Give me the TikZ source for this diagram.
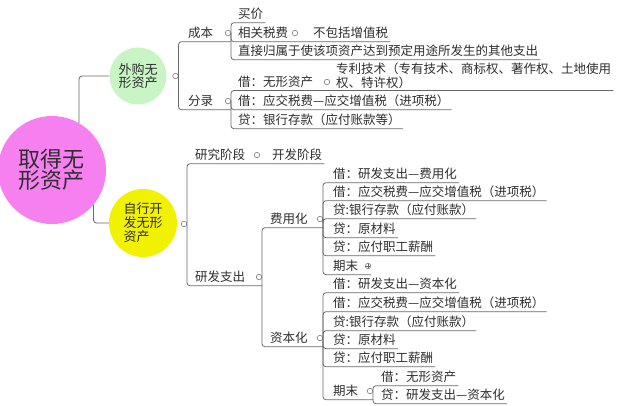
\documentclass[tikz,border=0pt]{standalone}
\usepackage{fontspec}
\newfontfamily\cjk{Noto Sans CJK SC}
\definecolor{rootpink}{RGB}{246,128,240}
\definecolor{buygreen}{RGB}{200,245,195}
\definecolor{devyellow}{RGB}{242,242,0}
\definecolor{linegray}{RGB}{105,105,105}
\definecolor{textgray}{RGB}{45,45,45}
\tikzset{
    label/.style={inner xsep=2pt, inner ysep=2pt, text=textgray, font=\cjk\fontsize{12.5}{14}\selectfont},
    topic/.style={label, anchor=west, text height=11pt, text depth=2pt},
    knob/.style={circle, draw=linegray, fill=white, inner sep=0pt, minimum size=5.5pt, line width=0.5pt},
    knobplus/.style={knob, path picture={\draw[linegray, line width=0.5pt] (path picture bounding box.west) -- (path picture bounding box.east) (path picture bounding box.north) -- (path picture bounding box.south);}},
    branch/.style={draw=linegray, line width=0.8pt, rounded corners=3pt},
    bubble/.style={circle, inner sep=0pt, text=textgray, align=center},
}
\begin{document}
\begin{tikzpicture}[x=1pt, y=-1pt]
    \useasboundingbox (0,0) rectangle (635,405);
    \node[bubble, fill=rootpink, minimum size=108pt, font=\cjk\fontsize{22}{21}\selectfont] (root) at (52,170) {取得无\\形资产};
    \node[bubble, fill=buygreen, minimum size=57pt, font=\cjk\fontsize{13}{13.5}\selectfont] (buy) at (138,76) {外购无\\形资产};
    \node[bubble, fill=devyellow, minimum size=68pt, align=left, font=\cjk\fontsize{13}{14}\selectfont] (dev) at (143,223) {自行开\\发无形\\资产};
    \draw[branch] (root.60) |- (buy.west);
    \draw[branch] (root.-40) |- (dev.west);

    \node[knob] (buyk) at (175.5,76) {};
    \node[topic] (cost) at (186,33) {成本};
    \node[knob] (costk) at (228,33) {};
    \node[topic] (entry) at (186,101) {分录};
    \node[knob] (entryk) at (228,101) {};
    \draw[branch] (buyk.east) |- (cost.south -| costk.east);
    \draw[branch] (buyk.east) |- (entry.south -| entryk.east);

    \node[topic] (price) at (236,14) {买价};
    \node[topic] (tax) at (236,33) {相关税费};
    \node[knob] (taxk) at (295,33) {};
    \node[topic] (novat) at (311,33) {不包括增值税};
    \node[topic] (direct) at (236,51) {直接归属于使该项资产达到预定用途所发生的其他支出};
    \draw[branch] (costk.east) |- (price.south east);
    \draw[branch] (costk.east) |- (novat.south east);
    \draw[branch] (costk.east) |- (direct.south east);

    \node[topic] (debit1) at (236,82) {借：无形资产};
    \node[knob] (debit1k) at (327,82) {};
    \node[label, anchor=south west, align=left] (patent) at (334,90.5) {专利技术（专有技术、商标权、著作权、土地使用\\权、特许权）};
    \node[topic] (debit2) at (236,101) {借：应交税费—应交增值税（进项税）};
    \node[topic] (credit1) at (236,120) {贷：银行存款（应付账款等）};
    \draw[branch] (entryk.east) |- (patent.south east);
    \draw[branch] (entryk.east) |- (debit2.south east);
    \draw[branch] (entryk.east) |- (credit1.south east);

    \node[knob] (devk) at (184,224) {};
    \node[topic] (research) at (193,155) {研究阶段};
    \node[knob] (researchk) at (257,155) {};
    \node[topic] (develop) at (270,155) {开发阶段};
    \node[topic] (spend) at (193,277) {研发支出};
    \node[knob] (spendk) at (259,277) {};
    \draw[branch] (devk.east) |- (develop.south east);
    \draw[branch] (devk.east) |- (spend.south -| spendk.east);

    \node[topic] (expense) at (268,219) {费用化};
    \node[knob] (expensek) at (320,219) {};
    \node[topic] (capital) at (268,338) {资本化};
    \node[knob] (capitalk) at (320,338) {};
    \draw[branch] (spendk.east) |- (expense.south -| expensek.east);
    \draw[branch] (spendk.east) |- (capital.south -| capitalk.east);

    \node[topic] (exp1) at (331,174) {借：研发支出—费用化};
    \node[topic] (exp2) at (331,192) {借：应交税费—应交增值税（进项税）};
    \node[topic] (exp3) at (331,210) {贷:银行存款（应付账款）};
    \node[topic] (exp4) at (331,229) {贷：原材料};
    \node[topic] (exp5) at (331,247) {贷：应付职工薪酬};
    \node[topic] (exp6) at (331,266) {期末};
    \node[knobplus] (exp6k) at (368,266) {};
    \draw[branch] (expensek.east) |- (exp1.south east);
    \draw[branch] (expensek.east) |- (exp2.south east);
    \draw[branch] (expensek.east) |- (exp3.south east);
    \draw[branch] (expensek.east) |- (exp4.south east);
    \draw[branch] (expensek.east) |- (exp5.south east);
    \draw[branch] (expensek.east) |- (exp6.south -| exp6k.east);

    \node[topic] (cap1) at (331,284) {借：研发支出—资本化};
    \node[topic] (cap2) at (331,303) {借：应交税费—应交增值税（进项税）};
    \node[topic] (cap3) at (331,322) {贷:银行存款（应付账款）};
    \node[topic] (cap4) at (331,340) {贷：原材料};
    \node[topic] (cap5) at (331,358) {贷：应付职工薪酬};
    \node[topic] (cap6) at (331,391) {期末};
    \node[knob] (cap6k) at (370,391) {};
    \draw[branch] (capitalk.east) |- (cap1.south east);
    \draw[branch] (capitalk.east) |- (cap2.south east);
    \draw[branch] (capitalk.east) |- (cap3.south east);
    \draw[branch] (capitalk.east) |- (cap4.south east);
    \draw[branch] (capitalk.east) |- (cap5.south east);
    \draw[branch] (capitalk.east) |- (cap6.south -| cap6k.east);

    \node[topic] (fin1) at (379,377) {借：无形资产};
    \node[topic] (fin2) at (379,395) {贷：研发支出—资本化};
    \draw[branch] (cap6k.east) |- (fin1.south east);
    \draw[branch] (cap6k.east) |- (fin2.south east);
\end{tikzpicture}
\end{document}
